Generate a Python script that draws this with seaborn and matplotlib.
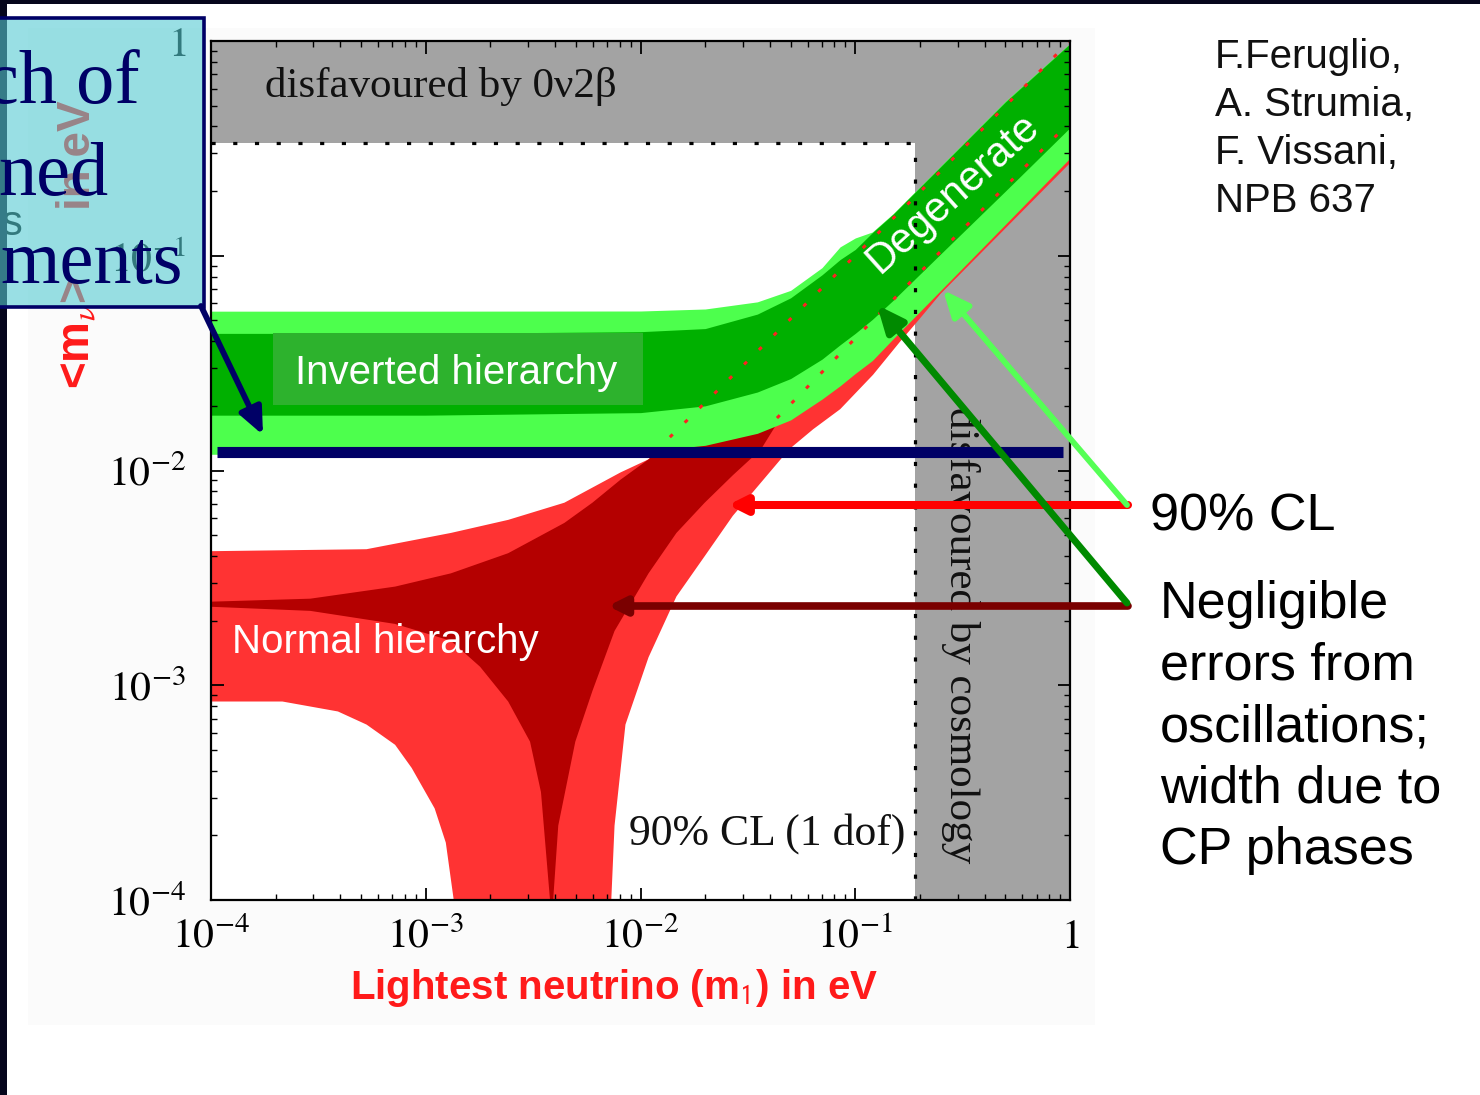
import numpy as np
import pandas as pd
import matplotlib
matplotlib.use("Agg")
import matplotlib.pyplot as plt
import seaborn as sns
from matplotlib.patches import Rectangle, FancyArrowPatch
from matplotlib.ticker import LogLocator, FuncFormatter, NullFormatter

# =============================================================================
# Data (m1 = lightest neutrino mass, mee in eV)
# =============================================================================

# experimental bounds
bound_0v2b = 0.336     # upper grey band
bound_cosmo = 0.19     # right grey band

# inverted hierarchy / degenerate bands (common m1 grid)
ih_m1 = [1e-4, 1e-3, 0.01, 0.02, 0.035, 0.05, 0.07, 0.085, 0.1, 0.12, 0.15, 0.25, 0.5, 1.0]
ih_light_hi = [0.0552, 0.0552, 0.0553, 0.0565, 0.061, 0.069, 0.088, 0.11, 0.121, 0.129, 0.157, 0.262, 0.525, 0.975]
ih_dark_hi = [0.0435, 0.0435, 0.0443, 0.0458, 0.0535, 0.0637, 0.0815, 0.096, 0.107, 0.128, 0.156, 0.26, 0.52, 0.97]
ih_dark_lo = [0.0181, 0.0181, 0.0186, 0.0200, 0.0232, 0.0268, 0.0330, 0.0385, 0.0435, 0.0505, 0.062, 0.102, 0.2, 0.395]
ih_light_lo = [0.0119, 0.0119, 0.0122, 0.0131, 0.0149, 0.0172, 0.0215, 0.0248, 0.0283, 0.0325, 0.041, 0.069, 0.14, 0.285]

# normal hierarchy, 90% CL outline (closed polygon)
nh_outer_m1 = [1e-4, 5.3e-4, 1.31e-3, 2.42e-3, 4.42e-3, 8.08e-3, 1.09e-2, 0.037, 0.195, 1.0,
               1.0, 0.249, 0.195, 0.162, 0.121, 0.0851, 0.0637, 0.0492, 0.0364, 0.0269,
               0.0199, 0.0147, 0.0109, 8.51e-3, 7.57e-3, 7.31e-3,
               1.35e-3, 1.24e-3, 1.10e-3, 8.6e-4, 7.2e-4, 5.3e-4, 3.9e-4, 2.15e-4, 1e-4]
nh_outer_mee = [4.21e-3, 4.3e-3, 5.12e-3, 5.89e-3, 7.08e-3, 9.8e-3, 1.127e-2, 0.0366, 0.191, 0.9,
                0.27, 0.0663, 0.0495, 0.0399, 0.0279, 0.0193, 0.01557, 0.01255, 8.79e-3, 6.15e-3,
                3.99e-3, 2.59e-3, 1.35e-3, 6.56e-4, 2.22e-4, 1e-4,
                1e-4, 1.85e-4, 2.67e-4, 4.12e-4, 5.28e-4, 6.56e-4, 7.55e-4, 8.4e-4, 8.4e-4]

# normal hierarchy, best-fit oscillation values (closed polygon)
nh_dark_m1 = [1e-4, 2.9e-4, 7.2e-4, 1.31e-3, 2.42e-3, 4.42e-3, 5.97e-3, 8.08e-3, 1.09e-2, 0.02, 0.04,
              0.0436, 0.0364, 0.0269, 0.0199, 0.0147, 0.0109, 7.57e-3, 5.97e-3, 4.97e-3, 4.14e-3, 3.92e-3,
              3.79e-3, 3.44e-3, 3.06e-3, 2.42e-3, 1.79e-3, 1.31e-3, 7.2e-4, 2.9e-4, 1e-4]
nh_dark_mee = [2.45e-3, 2.53e-3, 2.88e-3, 3.32e-3, 4.12e-3, 5.7e-3, 7.08e-3, 9.07e-3, 1.127e-2, 0.019, 0.028,
               0.0168, 0.01255, 9.5e-3, 7.08e-3, 5.12e-3, 3.32e-3, 1.79e-3, 9.4e-4, 5.46e-4, 2.22e-4, 1e-4,
               1e-4, 3.18e-4, 5.46e-4, 8.4e-4, 1.22e-3, 1.61e-3, 1.93e-3, 2.22e-3, 2.32e-3]

# normal hierarchy edges continued inside the degenerate band (dotted)
nh_dot_hi_m1 = [0.0137, 0.194, 0.834, 1.0]
nh_dot_hi_mee = [0.0143, 0.192, 0.834, 1.0]
nh_dot_lo_m1 = [0.0432, 0.2535, 0.948]
nh_dot_lo_mee = [0.01755, 0.1064, 0.398]

# reach of combined experiments
reach_m1 = [1.066e-4, 0.928]
reach_mee = 0.0122

tick_values = [1e-4, 1e-3, 1e-2, 1e-1, 1.0]

# colours
GRAY = "#a3a3a3"
LIGHT_RED = "#ff3333"
DARK_RED = "#b40000"
LIGHT_GREEN = "#4dff4d"
DARK_GREEN = "#00b000"
LABEL_GREEN = "#2db22d"
NAVY = "#000066"

# =============================================================================
# Figure
# =============================================================================

sns.set_theme(style="ticks")
plt.rcParams["font.family"] = ["Liberation Sans", "DejaVu Sans"]
plt.rcParams["mathtext.fontset"] = "stix"

W, H = 1480, 1095
fig = plt.figure(figsize=(W / 100, H / 100), dpi=100)
fig.patch.set_facecolor("white")


def fx(px):
    return px / W


def fy(py):
    return 1 - py / H


# faint backdrop of the pasted picture, dark slide edges
fig.add_artist(Rectangle((fx(28), fy(1025)), fx(1095 - 28), (1025 - 28) / H,
                         transform=fig.transFigure, color="#fbfbfb", lw=0, zorder=-1))
fig.add_artist(Rectangle((0, 0), fx(7), 1, transform=fig.transFigure,
                         color="#06061c", lw=0, zorder=4))
fig.add_artist(Rectangle((0, fy(4)), 1, 4 / H, transform=fig.transFigure,
                         color="#06061c", lw=0, zorder=4))

ax = fig.add_axes([fx(211), fy(900), fx(859), 859 / H])
ax.set_xscale("log")
ax.set_yscale("log")
ax.set_xlim(1e-4, 1)
ax.set_ylim(1e-4, 1)
ax.set_facecolor("white")

# disfavoured regions
ax.axhspan(bound_0v2b, 1, color=GRAY, lw=0, zorder=0.5)
ax.axvspan(bound_cosmo, 1, color=GRAY, lw=0, zorder=0.5)

# normal hierarchy
ax.fill(nh_outer_m1, nh_outer_mee, color=LIGHT_RED, lw=0, zorder=1)
ax.fill(nh_dark_m1, nh_dark_mee, color=DARK_RED, lw=0, zorder=1.2)

# inverted hierarchy / degenerate
ax.fill_between(ih_m1, ih_light_lo, ih_light_hi, color=LIGHT_GREEN, lw=0, zorder=2)
ax.fill_between(ih_m1, ih_dark_lo, ih_dark_hi, color=DARK_GREEN, lw=0, zorder=2.5)
ax.fill_between([1.945e-4, 0.01028], 0.0202, 0.0437, color=LABEL_GREEN, lw=0, zorder=3)

# borders of disfavoured regions
dots = (0, (1.3, 5.5))
ax.plot([1e-4, bound_cosmo], [bound_0v2b, bound_0v2b], color="black", lw=2.3,
        linestyle=dots, zorder=4)
ax.plot([bound_cosmo, bound_cosmo], [1e-4, bound_0v2b], color="black", lw=2.3,
        linestyle=dots, zorder=4)

# dotted NH edges
for xs, ys in [(nh_dot_hi_m1, nh_dot_hi_mee), (nh_dot_lo_m1, nh_dot_lo_mee)]:
    df = pd.DataFrame({"m1": xs, "mee": ys})
    sns.lineplot(data=df, x="m1", y="mee", ax=ax, color="#ff2020", lw=2.2,
                 linestyle=dots, estimator=None, sort=False, zorder=4.5)

# reach line
ax.plot(reach_m1, [reach_mee, reach_mee], color=NAVY, lw=8, solid_capstyle="butt", zorder=6)

# labels inside the plot
serif = "Liberation Serif"
ax.text(1.78e-4, 0.617, "disfavoured by 0ν2β", family=serif, fontsize=31,
        color="#111111", ha="left", va="center", zorder=5)
ax.text(2.46e-4, 0.0284, "Inverted hierarchy", fontsize=29, color="white",
        ha="left", va="center", zorder=5)
ax.text(1.25e-4, 1.59e-3, "Normal hierarchy", fontsize=29, color="white",
        ha="left", va="center", zorder=5)
ax.text(0.1706, 2.05e-4, "90% CL (1 dof)", family=serif, fontsize=31.5,
        color="#111111", ha="right", va="center", zorder=5)
ax.text(0.285, 0.196, "Degenerate", fontsize=30, color="white", rotation=42,
        rotation_mode="anchor", ha="center", va="center", zorder=5)
ax.text(0.31, 1.71e-3, "disfavoured by cosmology", family=serif, fontsize=31,
        color="#111111", rotation=270, rotation_mode="anchor", ha="center",
        va="center", zorder=5)

# axes styling
for s in ax.spines.values():
    s.set_color("black")
    s.set_linewidth(1.6)
    s.set_zorder(10)
ax.xaxis.set_zorder(9)
ax.yaxis.set_zorder(9)


def decade(v, pos):
    e = int(round(np.log10(v)))
    return "$1$" if e == 0 else rf"$10^{{{e}}}$"


for axis in (ax.xaxis, ax.yaxis):
    axis.set_major_locator(LogLocator(base=10, numticks=10))
    axis.set_minor_locator(LogLocator(base=10, subs=np.arange(2, 10), numticks=40))
    axis.set_major_formatter(FuncFormatter(decade))
    axis.set_minor_formatter(NullFormatter())
ax.set_xticks(tick_values)
ax.set_yticks(tick_values)

ax.tick_params(which="both", direction="in", top=True, right=True, colors="black")
ax.tick_params(which="major", length=9, width=1.3, labelsize=30)
ax.tick_params(which="minor", length=4.5, width=1.0)
ax.tick_params(axis="x", which="major", pad=12)
ax.tick_params(axis="y", which="major", pad=18)
ax.set_xlabel("")
ax.set_ylabel("")

# axis titles
fig.text(fx(614), fy(988), r"Lightest neutrino (m$_\mathsf{1}$) in eV", color="#ff1a1a",
         fontsize=29, weight="bold", ha="center", va="center")
fig.text(fx(78), fy(333), r"<m$_\nu$>", color="#ff1a1a", fontsize=33, weight="bold",
         rotation=90, ha="center", va="center", zorder=2)
fig.text(fx(78), fy(155), "in eV", color="#ff1a1a", fontsize=33, weight="bold",
         rotation=90, ha="center", va="center", zorder=2)
fig.text(fx(2), fy(224), "s", color="black", fontsize=30, ha="left", va="center", zorder=2)

# semi-transparent call-out box
fig.add_artist(Rectangle((fx(-3), fy(307)), fx(207), (307 - 18) / H,
                         transform=fig.transFigure,
                         facecolor=(85 / 255, 203 / 255, 210 / 255, 0.6),
                         edgecolor=NAVY, lw=2.6, zorder=5))
for txt, right, base in [("ch of", 140, 103), ("ned", 108, 195), ("ments", 183, 283)]:
    fig.text(fx(right), fy(base), txt, family=serif, fontsize=55, color=NAVY,
             ha="right", va="baseline", zorder=6)

# citation and notes
fig.text(fx(1215), fy(38), "F.Feruglio,\nA. Strumia,\nF. Vissani,\nNPB 637",
         fontsize=29, color="#111111", ha="left", va="top", linespacing=1.33)
fig.text(fx(1150), fy(517), "90% CL", fontsize=37.5, color="black",
         ha="left", va="center")
fig.text(fx(1160), fy(580), "Negligible\nerrors from\noscillations;\nwidth due to\nCP phases",
         fontsize=37.5, color="black", ha="left", va="top", linespacing=1.33)


# arrows
def arrow(p0, p1, color, lw, hl, hw):
    a = FancyArrowPatch((fx(p0[0]), fy(p0[1])), (fx(p1[0]), fy(p1[1])),
                        transform=fig.transFigure,
                        arrowstyle=f"-|>,head_length={hl},head_width={hw}",
                        mutation_scale=1, color=color, lw=lw, shrinkA=0, shrinkB=0,
                        zorder=8)
    fig.add_artist(a)


arrow((201, 306), (263, 435), NAVY, 4.2, 16, 7)
arrow((1128, 505), (728, 505), "#ff0000", 5.8, 10, 5)
arrow((1128, 606), (608, 606), "#7a0000", 5.5, 10, 5)
arrow((1127, 505), (943, 290), "#55ff55", 4.2, 16, 7)
arrow((1127, 603), (877, 305), "#008a00", 5.0, 16, 7)

fig.savefig("out.png", dpi=100, facecolor="white")
